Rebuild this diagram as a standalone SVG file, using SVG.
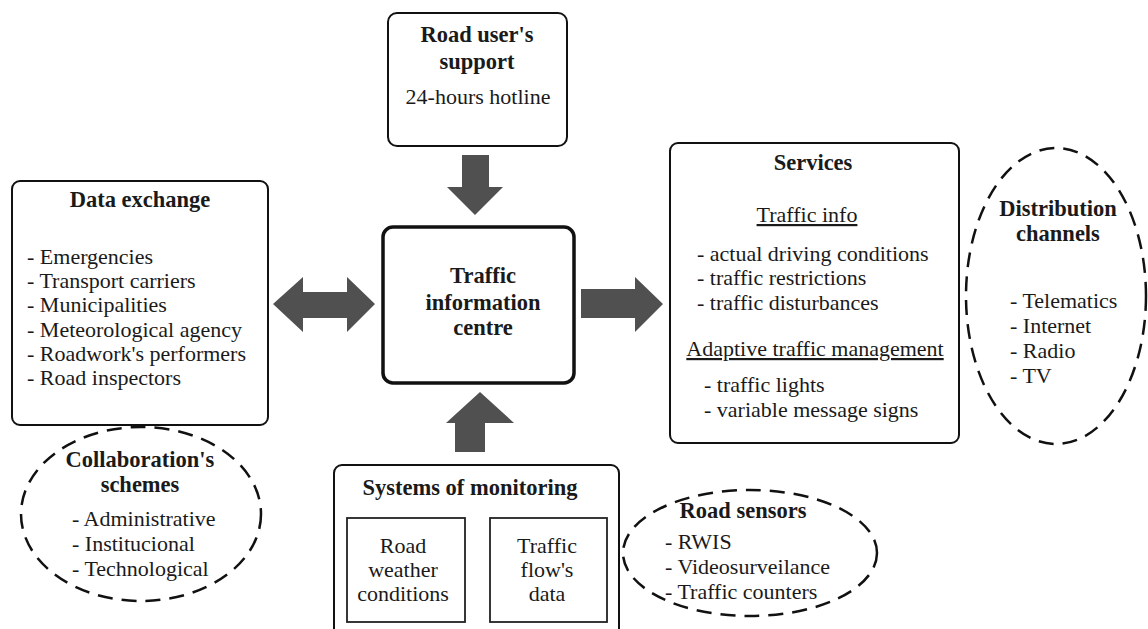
<svg xmlns="http://www.w3.org/2000/svg" width="1148" height="629" viewBox="0 0 1148 629">
<style>
.t{fill:#1a1a1a;font-size:22px}
.b{font-weight:bold;font-size:22.5px}
.m{text-anchor:middle}
.box{fill:#fff;stroke:#111;stroke-width:2}
.thick{fill:#fff;stroke:#111;stroke-width:3.5}
.inner{fill:#fff;stroke:#222;stroke-width:1.8}
.dash{fill:none;stroke:#111;stroke-width:2.5;stroke-dasharray:15 9}
.arr{fill:#505050}
.u{text-decoration:underline}
</style>
<rect width="1148" height="629" fill="#fff"/>
<g id="connectors">
<polygon class="arr" points="462,155 489,155 489,187 503,187 475,215 447,187 462,187"/>
<polygon class="arr" points="581,289 635,289 635,277 663,304 635,332 635,318 581,318"/>
<polygon class="arr" points="273,304 303,277 303,292 347,292 347,277 375,304 347,332 347,318 303,318 303,332"/>
<polygon class="arr" points="480,392 514,423 485,423 485,452 455,452 455,423 446,423"/>
</g>
<g id="road-users-support">
<rect class="box" x="388" y="13" width="179" height="133" rx="9"/>
<text class="t b m" style="font-family:'Liberation Serif',serif" x="477" y="42">Road user's</text>
<text class="t b m" style="font-family:'Liberation Serif',serif" x="477" y="69">support</text>
<text class="t m" style="font-family:'Liberation Serif',serif" x="478" y="104">24-hours hotline</text>
</g>
<g id="traffic-information-centre">
<rect class="thick" x="383" y="227" width="191" height="156" rx="10"/>
<text class="t b m" style="font-family:'Liberation Serif',serif" x="483" y="283">Traffic</text>
<text class="t b m" style="font-family:'Liberation Serif',serif" x="483" y="310">information</text>
<text class="t b m" style="font-family:'Liberation Serif',serif" x="483" y="335">centre</text>
</g>
<g id="data-exchange">
<rect class="box" x="12" y="181" width="256" height="244" rx="8"/>
<text class="t b m" style="font-family:'Liberation Serif',serif" x="140" y="207">Data exchange</text>
<text class="t" style="font-family:'Liberation Serif',serif" x="27" y="264">- Emergencies</text>
<text class="t" style="font-family:'Liberation Serif',serif" x="27" y="288">- Transport carriers</text>
<text class="t" style="font-family:'Liberation Serif',serif" x="27" y="312">- Municipalities</text>
<text class="t" style="font-family:'Liberation Serif',serif" x="27" y="337">- Meteorological agency</text>
<text class="t" style="font-family:'Liberation Serif',serif" x="27" y="361">- Roadwork's performers</text>
<text class="t" style="font-family:'Liberation Serif',serif" x="27" y="385">- Road inspectors</text>
</g>
<g id="services">
<rect class="box" x="670" y="143" width="289" height="300" rx="8"/>
<text class="t b m" style="font-family:'Liberation Serif',serif" x="813" y="170">Services</text>
<text class="t m u" style="font-family:'Liberation Serif',serif" x="807" y="222">Traffic info</text>
<text class="t" style="font-family:'Liberation Serif',serif" x="697" y="261">- actual driving conditions</text>
<text class="t" style="font-family:'Liberation Serif',serif" x="697" y="285">- traffic restrictions</text>
<text class="t" style="font-family:'Liberation Serif',serif" x="697" y="310">- traffic disturbances</text>
<text class="t m u" style="font-family:'Liberation Serif',serif" x="815" y="356">Adaptive traffic management</text>
<text class="t" style="font-family:'Liberation Serif',serif" x="704" y="392">- traffic lights</text>
<text class="t" style="font-family:'Liberation Serif',serif" x="704" y="417">- variable message signs</text>
</g>
<g id="distribution-channels">
<ellipse class="dash" cx="1056" cy="296" rx="90" ry="148"/>
<text class="t b m" style="font-family:'Liberation Serif',serif" x="1058" y="216">Distribution</text>
<text class="t b m" style="font-family:'Liberation Serif',serif" x="1058" y="241">channels</text>
<text class="t" style="font-family:'Liberation Serif',serif" x="1010" y="308">- Telematics</text>
<text class="t" style="font-family:'Liberation Serif',serif" x="1010" y="333">- Internet</text>
<text class="t" style="font-family:'Liberation Serif',serif" x="1010" y="358">- Radio</text>
<text class="t" style="font-family:'Liberation Serif',serif" x="1010" y="383">- TV</text>
</g>
<g id="collaboration-schemes">
<ellipse class="dash" cx="141" cy="514" rx="120" ry="87"/>
<text class="t b m" style="font-family:'Liberation Serif',serif" x="140" y="467">Collaboration's</text>
<text class="t b m" style="font-family:'Liberation Serif',serif" x="140" y="492">schemes</text>
<text class="t" style="font-family:'Liberation Serif',serif" x="72" y="526">- Administrative</text>
<text class="t" style="font-family:'Liberation Serif',serif" x="72" y="551">- Institucional</text>
<text class="t" style="font-family:'Liberation Serif',serif" x="72" y="576">- Technological</text>
</g>
<g id="systems-of-monitoring">
<rect class="box" x="334" y="465" width="285" height="180" rx="8"/>
<text class="t b m" style="font-family:'Liberation Serif',serif" x="470" y="495">Systems of monitoring</text>
<rect class="inner" x="347" y="518" width="118" height="104"/>
<text class="t m" style="font-family:'Liberation Serif',serif" x="403" y="553">Road</text>
<text class="t m" style="font-family:'Liberation Serif',serif" x="403" y="577">weather</text>
<text class="t m" style="font-family:'Liberation Serif',serif" x="403" y="601">conditions</text>
<rect class="inner" x="490" y="518" width="117" height="104"/>
<text class="t m" style="font-family:'Liberation Serif',serif" x="547" y="553">Traffic</text>
<text class="t m" style="font-family:'Liberation Serif',serif" x="547" y="577">flow's</text>
<text class="t m" style="font-family:'Liberation Serif',serif" x="547" y="601">data</text>
</g>
<g id="road-sensors">
<ellipse class="dash" cx="750" cy="553" rx="127" ry="63"/>
<text class="t b m" style="font-family:'Liberation Serif',serif" x="743" y="518">Road sensors</text>
<text class="t" style="font-family:'Liberation Serif',serif" x="665" y="549">- RWIS</text>
<text class="t" style="font-family:'Liberation Serif',serif" x="665" y="574">- Videosurveilance</text>
<text class="t" style="font-family:'Liberation Serif',serif" x="665" y="599">- Traffic counters</text>
</g>
</svg>
